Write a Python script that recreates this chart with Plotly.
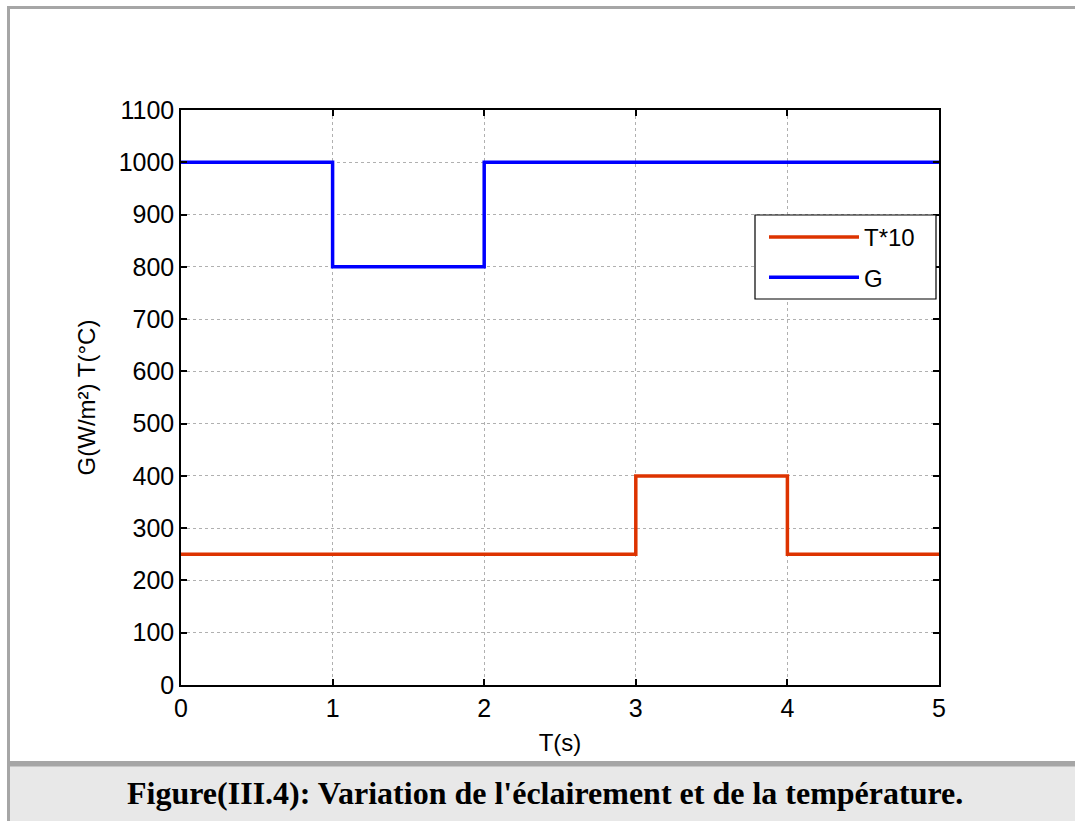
import plotly.graph_objects as go

# Step profiles of the inputs over time (s)
t_G = [0, 1, 2, 5]
G_vals = [1000, 800, 1000, 1000]          # irradiance G (W/m²)
t_T = [0, 3, 4, 5]
T10_vals = [250, 400, 250, 250]           # temperature ×10

x_ticks = [0, 1, 2, 3, 4, 5]
y_ticks = list(range(0, 1101, 100))

W, H = 1075, 821
L, R, T, B = 181, 939, 110, 685   # plot area in pixels
FONT = "Liberation Sans, Arial"


def px(x):
    return (x - L) / (R - L)


def py(y):
    return (B - y) / (B - T)


fig = go.Figure()
fig.add_trace(go.Scatter(x=t_T, y=T10_vals, mode="lines", line_shape="hv",
                         name="T*10", legendgroup="T",
                         line=dict(color="#dd3300", width=3.5)))
fig.add_trace(go.Scatter(x=t_G, y=G_vals, mode="lines", line_shape="hv",
                         name="G", legendgroup="G",
                         line=dict(color="#0000ff", width=3.5)))

axis_common = dict(
    showline=True, linecolor="black", linewidth=1.5, mirror="ticks",
    ticks="inside", ticklen=6, tickcolor="black", tickwidth=1.5,
    showgrid=True, gridcolor="#b0b0b0", griddash="dot", gridwidth=1,
    zeroline=False,
    tickfont=dict(family=FONT, size=25, color="black"),
)

fig.update_xaxes(range=[0, 5], tickvals=x_ticks, ticktext=[str(v) for v in x_ticks],
                 title=dict(text="T(s)", font=dict(family=FONT, size=24, color="black"),
                            standoff=13),
                 **axis_common)
fig.update_yaxes(range=[0, 1100], tickvals=y_ticks, ticktext=[str(v) for v in y_ticks],
                 title=dict(text="G(W/m²) T(°C)", font=dict(family=FONT, size=24, color="black"),
                            standoff=16),
                 **axis_common)

shapes = [
    # caption band
    dict(type="rect", xref="paper", yref="paper", x0=px(10), x1=px(W + 5), y0=py(766), y1=py(H + 5),
         fillcolor="#e8e8e8", line=dict(width=0), layer="below"),
    dict(type="rect", xref="paper", yref="paper", x0=px(10), x1=px(W + 5), y0=py(761), y1=py(766.5),
         fillcolor="#a6a6a6", line=dict(width=0), layer="below"),
    # outer frame (top and left)
    dict(type="rect", xref="paper", yref="paper", x0=px(7), x1=px(W + 5), y0=py(9), y1=py(6),
         fillcolor="#a6a6a6", line=dict(width=0), layer="below"),
    dict(type="rect", xref="paper", yref="paper", x0=px(7), x1=px(10), y0=py(H + 5), y1=py(6),
         fillcolor="#a6a6a6", line=dict(width=0), layer="below"),
    # legend frame
    dict(type="rect", xref="paper", yref="paper", x0=px(755), x1=px(936), y0=py(299), y1=py(215),
         fillcolor="white", line=dict(color="black", width=1.2), layer="above"),
]

fig.update_layout(
    width=W, height=H,
    margin=dict(l=L, r=W - R, t=T, b=H - B, autoexpand=False),
    paper_bgcolor="white", plot_bgcolor="white",
    showlegend=True,
    legend=dict(x=px(755), y=py(215), xanchor="left", yanchor="top",
                bgcolor="rgba(0,0,0,0)", borderwidth=0,
                font=dict(family=FONT, size=24, color="black"),
                itemwidth=90, indentation=9, traceorder="grouped", tracegroupgap=6),
    shapes=shapes,
    annotations=[dict(
        text="<b>Figure(III.4): Variation de l'éclairement et de la température.</b>",
        xref="paper", yref="paper", x=px(545), y=py(793), xanchor="center", yanchor="middle",
        showarrow=False, font=dict(family="Liberation Serif, Times New Roman", size=32, color="black"),
    )],
)

fig.write_html("out.html")
